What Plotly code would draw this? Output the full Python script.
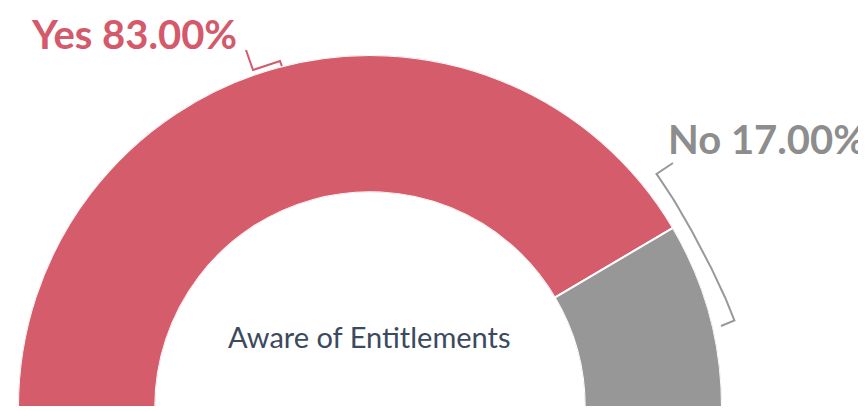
import plotly.graph_objects as go
import math

# ---- data ----
categories = ["Yes", "No"]
values = [83.0, 17.0]
colors = ["#d55d6b", "#979797"]
label_colors = ["#d4596a", "#8d8d8d"]
center_title = "Aware of Entitlements"

W, H = 866, 411
CX, CY, R = 370, 408, 352
DX, DY = -8, 9  # empirical offset correction for polar placement

# angular layout of the half donut (180 deg -> 0 deg, clockwise)
total = sum(values)
thetas, widths = [], []
start = 180.0
for v in values:
    span = 180.0 * v / total
    thetas.append(start - span / 2)
    widths.append(span)
    start -= span

fig = go.Figure()
fig.add_trace(go.Barpolar(
    r=[1] * len(values), theta=thetas, width=widths,
    marker=dict(color=colors, line=dict(color="white", width=2)),
    hoverinfo="skip", showlegend=False,
))

# leader for Yes
yes_x = [238, 245, 272, 277]
yes_y = [42, 62, 53, 67]
fig.add_trace(go.Scatter(x=yes_x, y=yes_y, mode="lines",
                         line=dict(color=label_colors[0], width=2),
                         hoverinfo="skip", showlegend=False))

# bracket for No
angs = [41 - i * (41 - 15) / 40 for i in range(41)]
bx, by = [665], [155]
for a in angs:
    rr = 369 - 5 * math.sin(math.pi * (a - 15) / 26)
    bx.append(CX + rr * math.cos(math.radians(a)))
    by.append(CY - rr * math.sin(math.radians(a)))
bx.append(713)
by.append(318)
fig.add_trace(go.Scatter(x=bx, y=by, mode="lines",
                         line=dict(color="#999999", width=2),
                         hoverinfo="skip", showlegend=False))

fig.update_layout(
    width=W, height=H,
    margin=dict(l=0, r=0, t=0, b=0),
    paper_bgcolor="white", plot_bgcolor="rgba(0,0,0,0)",
    polar=dict(
        domain=dict(x=[(CX - R + DX) / W, (CX + R + DX) / W],
                    y=[(H - CY + DY) / H, (H - CY + R + DY) / H]),
        sector=[0, 180], hole=0.61,
        bgcolor="rgba(0,0,0,0)",
        radialaxis=dict(visible=False, range=[0, 1]),
        angularaxis=dict(visible=False, rotation=0, direction="counterclockwise"),
    ),
    xaxis=dict(range=[0, W], visible=False, fixedrange=True, domain=[0, 1]),
    yaxis=dict(range=[H, 0], visible=False, fixedrange=True, domain=[0, 1]),
    annotations=[
        dict(x=126, y=1, xref="x", yref="y", xanchor="center", yanchor="top",
             text=f"{categories[0]} {values[0]:.2f}%", showarrow=False, borderpad=0,
             font=dict(family="Lato", size=40, color=label_colors[0], weight="bold")),
        dict(x=859, y=131, xref="x", yref="y", xanchor="right",
             text=f"{categories[1]} {values[1]:.2f}%", showarrow=False, borderpad=0,
             font=dict(family="Lato", size=40, color=label_colors[1], weight="bold")),
        dict(x=361, y=328, xref="x", yref="y", text=center_title,
             showarrow=False, font=dict(family="Lato", size=29, color="#3b4a5e")),
    ],
)

fig.write_html("out.html")
